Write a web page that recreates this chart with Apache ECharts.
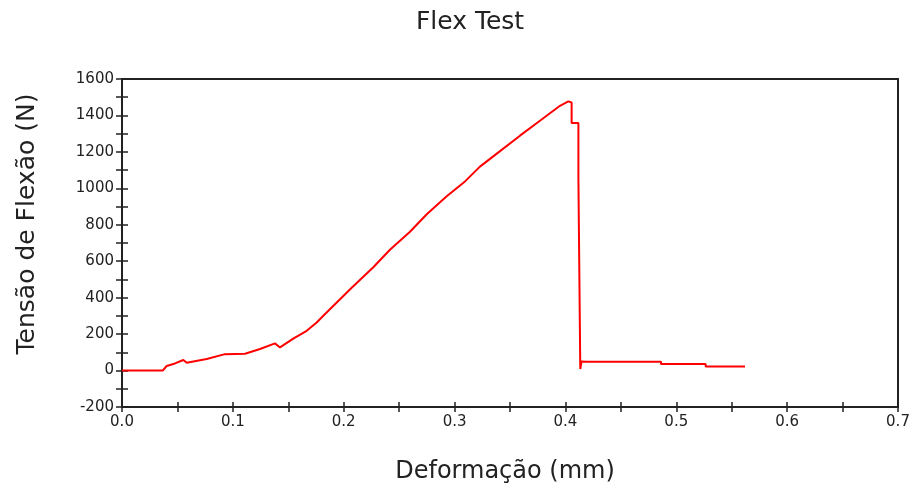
<!DOCTYPE html>
<html>
<head>
<meta charset="utf-8">
<script src="https://cdn.jsdelivr.net/npm/echarts@6/dist/echarts.min.js"></script>
<style>
  html, body { margin: 0; padding: 0; background: #fff; }
  #chart { width: 914px; height: 488px; }
</style>
</head>
<body>
<div id="chart"></div>
<script>
// Flexural test: deformation (mm) vs. force (N)
const deformation = [0, 0.0367, 0.0403, 0.0478, 0.0553, 0.0584, 0.0764, 0.0929, 0.111, 0.1245,
  0.138, 0.1425, 0.1545, 0.1666, 0.1756, 0.1816, 0.2072, 0.2267, 0.2417, 0.2598,
  0.2749, 0.2929, 0.3094, 0.3229, 0.341, 0.359, 0.377, 0.3951, 0.4026, 0.4056,
  0.4056, 0.4117, 0.4117, 0.4134, 0.4134, 0.4145, 0.4185, 0.4862, 0.4862, 0.5265,
  0.5265, 0.562];
const force = [0, 0, 25, 39, 58, 43, 63, 90, 92, 118,
  149, 127, 175, 218, 264, 301, 454, 567, 663, 762,
  858, 957, 1038, 1119, 1204, 1289, 1371, 1453, 1477, 1471,
  1358, 1358, 1060, 1060, 8, 50, 48, 48, 36, 36,
  22, 22];

const xTicks = { min: 0, max: 0.7, step: 0.1 };
const yTicks = { min: -200, max: 1600, step: 200 };

const titleText = 'Flex Test';
const xName = 'Deformação (mm)';
const yName = 'Tensão de Flexão (N)';

const FONT = 'DejaVu Sans';
const INK = '#222';

const points = deformation.map((d, i) => [d, force[i]]);

const chart = echarts.init(document.getElementById('chart'), null, { renderer: 'canvas' });

// Each edge gets two overlapping axes: one draws the outward half of the
// ticks plus labels, the other the inward half, so the ticks cross the line.
function edgeAxis(t, pos, inside, len, fmt) {
  return {
    type: 'value', min: t.min, max: t.max, interval: t.step, position: pos,
    axisLine: { show: true, onZero: false, lineStyle: { color: INK, width: 2 } },
    axisTick: { show: true, inside: inside, length: len, lineStyle: { color: INK, width: 1.5 } },
    minorTick: { show: true, splitNumber: 2, length: len, lineStyle: { color: INK, width: 1.5 } },
    axisLabel: inside
      ? { show: false }
      : { color: INK, fontFamily: FONT, fontSize: 15, margin: 8, formatter: fmt },
    splitLine: { show: false }
  };
}

chart.setOption({
  animation: false,
  backgroundColor: '#fff',
  grid: {
    left: 122, right: 16, top: 79, bottom: 81,
    show: true, borderColor: INK, borderWidth: 2, backgroundColor: 'transparent'
  },
  xAxis: [
    edgeAxis(xTicks, 'bottom', false, 5, v => v.toFixed(1)),
    edgeAxis(xTicks, 'bottom', true, 5)
  ],
  yAxis: [
    edgeAxis(yTicks, 'left', false, 6, v => String(v)),
    edgeAxis(yTicks, 'left', true, 6)
  ],
  series: [
    {
      type: 'line',
      data: points,
      showSymbol: false,
      symbol: 'none',
      lineStyle: { color: '#ff0000', width: 2 },
      itemStyle: { color: '#ff0000' }
    }
  ],
  graphic: [
    {
      type: 'text', x: 470, y: 22,
      style: { text: titleText, fill: INK, font: '25px "' + FONT + '"', align: 'center', verticalAlign: 'middle' }
    },
    {
      type: 'text', x: 505, y: 472,
      style: { text: xName, fill: INK, font: '24px "' + FONT + '"', align: 'center', verticalAlign: 'middle' }
    },
    {
      type: 'text', x: 27, y: 224, rotation: Math.PI / 2,
      style: { text: yName, fill: INK, font: '25px "' + FONT + '"', align: 'center', verticalAlign: 'middle' }
    }
  ]
});
</script>
</body>
</html>
